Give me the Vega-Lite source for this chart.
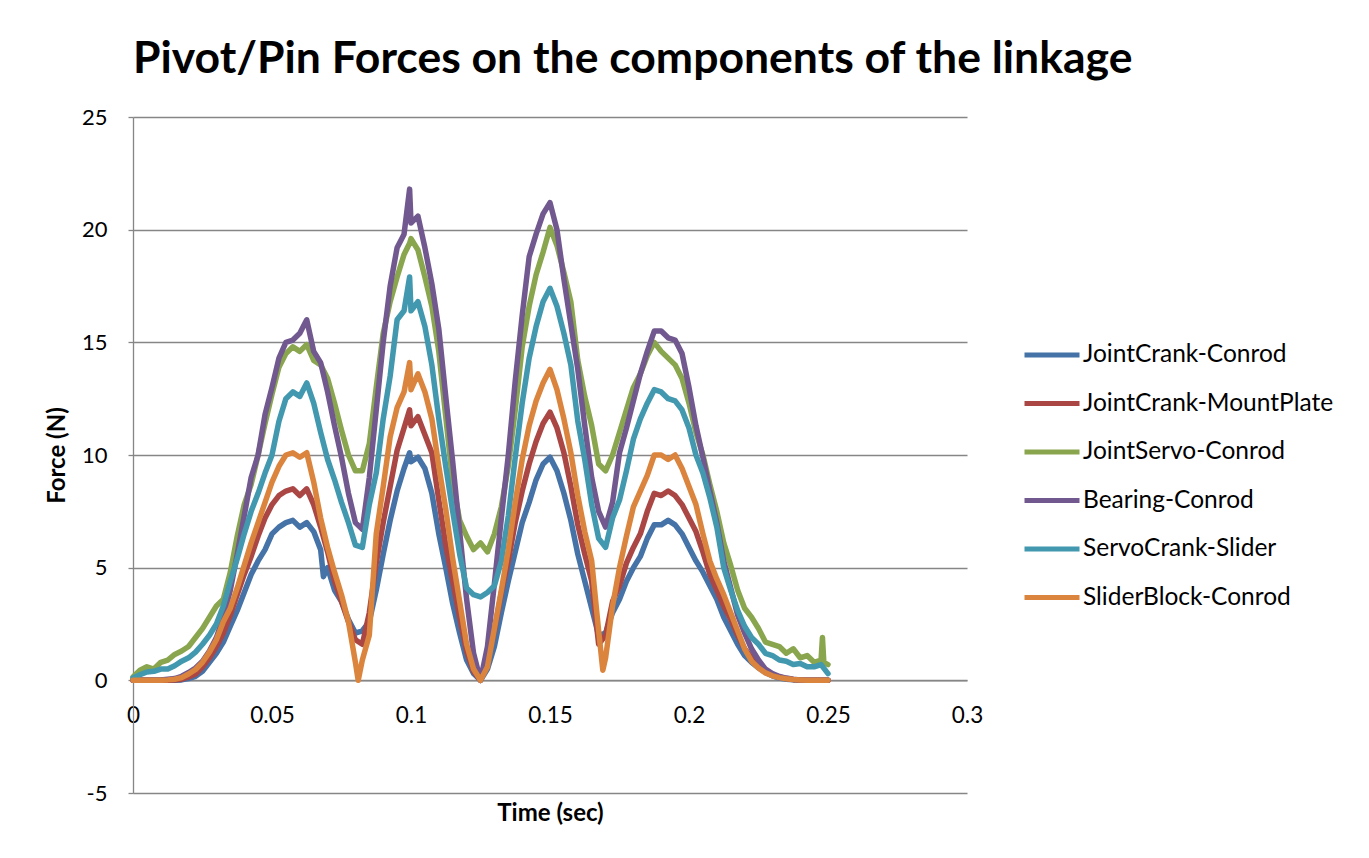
{
  "$schema": "https://vega.github.io/schema/vega-lite/v6.json",
  "width": 834,
  "height": 676,
  "autosize": {"type": "none"},
  "padding": {"left": 133, "top": 117, "right": 402, "bottom": 65},
  "background": "white",
  "title": {"text": "Pivot/Pin Forces on the components of the linkage", "anchor": "start", "frame": "group", "font": "Lato", "fontSize": 44.5, "fontWeight": "bold", "color": "black", "offset": 24},
  "data": {"values": [
    {"t":0,"JointCrank-Conrod":0,"JointCrank-MountPlate":0,"JointServo-Conrod":0.15,"Bearing-Conrod":0,"ServoCrank-Slider":0.1,"SliderBlock-Conrod":0},
    {"t":0.0025,"JointCrank-Conrod":0,"JointCrank-MountPlate":0,"JointServo-Conrod":0.45,"Bearing-Conrod":0,"ServoCrank-Slider":0.25,"SliderBlock-Conrod":0},
    {"t":0.005,"JointCrank-Conrod":0,"JointCrank-MountPlate":0,"JointServo-Conrod":0.6,"Bearing-Conrod":0,"ServoCrank-Slider":0.37,"SliderBlock-Conrod":0},
    {"t":0.0075,"JointCrank-Conrod":0,"JointCrank-MountPlate":0,"JointServo-Conrod":0.5,"Bearing-Conrod":0,"ServoCrank-Slider":0.4,"SliderBlock-Conrod":0},
    {"t":0.01,"JointCrank-Conrod":0,"JointCrank-MountPlate":0,"JointServo-Conrod":0.8,"Bearing-Conrod":0.02,"ServoCrank-Slider":0.5,"SliderBlock-Conrod":0},
    {"t":0.0125,"JointCrank-Conrod":0,"JointCrank-MountPlate":0,"JointServo-Conrod":0.9,"Bearing-Conrod":0.05,"ServoCrank-Slider":0.5,"SliderBlock-Conrod":0.02},
    {"t":0.015,"JointCrank-Conrod":0,"JointCrank-MountPlate":0.01,"JointServo-Conrod":1.15,"Bearing-Conrod":0.08,"ServoCrank-Slider":0.65,"SliderBlock-Conrod":0.05},
    {"t":0.0175,"JointCrank-Conrod":0.02,"JointCrank-MountPlate":0.05,"JointServo-Conrod":1.3,"Bearing-Conrod":0.18,"ServoCrank-Slider":0.85,"SliderBlock-Conrod":0.12},
    {"t":0.02,"JointCrank-Conrod":0.08,"JointCrank-MountPlate":0.15,"JointServo-Conrod":1.5,"Bearing-Conrod":0.35,"ServoCrank-Slider":1.0,"SliderBlock-Conrod":0.28},
    {"t":0.0225,"JointCrank-Conrod":0.18,"JointCrank-MountPlate":0.28,"JointServo-Conrod":1.9,"Bearing-Conrod":0.55,"ServoCrank-Slider":1.25,"SliderBlock-Conrod":0.48},
    {"t":0.025,"JointCrank-Conrod":0.4,"JointCrank-MountPlate":0.6,"JointServo-Conrod":2.3,"Bearing-Conrod":0.85,"ServoCrank-Slider":1.6,"SliderBlock-Conrod":0.8},
    {"t":0.0275,"JointCrank-Conrod":0.8,"JointCrank-MountPlate":1.0,"JointServo-Conrod":2.8,"Bearing-Conrod":1.3,"ServoCrank-Slider":2.0,"SliderBlock-Conrod":1.25},
    {"t":0.03,"JointCrank-Conrod":1.2,"JointCrank-MountPlate":1.5,"JointServo-Conrod":3.3,"Bearing-Conrod":1.9,"ServoCrank-Slider":2.5,"SliderBlock-Conrod":1.8},
    {"t":0.0325,"JointCrank-Conrod":1.7,"JointCrank-MountPlate":2.1,"JointServo-Conrod":3.6,"Bearing-Conrod":2.8,"ServoCrank-Slider":3.3,"SliderBlock-Conrod":2.6},
    {"t":0.035,"JointCrank-Conrod":2.4,"JointCrank-MountPlate":2.9,"JointServo-Conrod":4.8,"Bearing-Conrod":4.0,"ServoCrank-Slider":4.4,"SliderBlock-Conrod":3.2},
    {"t":0.0375,"JointCrank-Conrod":3.1,"JointCrank-MountPlate":3.8,"JointServo-Conrod":6.4,"Bearing-Conrod":5.6,"ServoCrank-Slider":5.4,"SliderBlock-Conrod":4.1},
    {"t":0.04,"JointCrank-Conrod":3.9,"JointCrank-MountPlate":4.7,"JointServo-Conrod":7.8,"Bearing-Conrod":7.3,"ServoCrank-Slider":6.5,"SliderBlock-Conrod":5.1},
    {"t":0.0425,"JointCrank-Conrod":4.7,"JointCrank-MountPlate":5.5,"JointServo-Conrod":8.7,"Bearing-Conrod":9.0,"ServoCrank-Slider":7.5,"SliderBlock-Conrod":6.1},
    {"t":0.045,"JointCrank-Conrod":5.3,"JointCrank-MountPlate":6.4,"JointServo-Conrod":10.0,"Bearing-Conrod":10.0,"ServoCrank-Slider":8.3,"SliderBlock-Conrod":7.0},
    {"t":0.0475,"JointCrank-Conrod":5.8,"JointCrank-MountPlate":7.2,"JointServo-Conrod":11.4,"Bearing-Conrod":11.8,"ServoCrank-Slider":9.2,"SliderBlock-Conrod":7.9},
    {"t":0.05,"JointCrank-Conrod":6.5,"JointCrank-MountPlate":7.8,"JointServo-Conrod":12.7,"Bearing-Conrod":13.0,"ServoCrank-Slider":10.0,"SliderBlock-Conrod":8.8},
    {"t":0.0525,"JointCrank-Conrod":6.8,"JointCrank-MountPlate":8.2,"JointServo-Conrod":13.9,"Bearing-Conrod":14.3,"ServoCrank-Slider":11.5,"SliderBlock-Conrod":9.5},
    {"t":0.055,"JointCrank-Conrod":7.0,"JointCrank-MountPlate":8.4,"JointServo-Conrod":14.5,"Bearing-Conrod":15.0,"ServoCrank-Slider":12.5,"SliderBlock-Conrod":10.0},
    {"t":0.0575,"JointCrank-Conrod":7.1,"JointCrank-MountPlate":8.5,"JointServo-Conrod":14.8,"Bearing-Conrod":15.1,"ServoCrank-Slider":12.8,"SliderBlock-Conrod":10.1},
    {"t":0.06,"JointCrank-Conrod":6.8,"JointCrank-MountPlate":8.2,"JointServo-Conrod":14.6,"Bearing-Conrod":15.4,"ServoCrank-Slider":12.6,"SliderBlock-Conrod":9.9},
    {"t":0.0625,"JointCrank-Conrod":7.0,"JointCrank-MountPlate":8.5,"JointServo-Conrod":14.9,"Bearing-Conrod":16.0,"ServoCrank-Slider":13.2,"SliderBlock-Conrod":10.1},
    {"t":0.065,"JointCrank-Conrod":6.6,"JointCrank-MountPlate":7.8,"JointServo-Conrod":14.2,"Bearing-Conrod":14.6,"ServoCrank-Slider":12.3,"SliderBlock-Conrod":8.8},
    {"t":0.0675,"JointCrank-Conrod":5.8,"JointCrank-MountPlate":6.8,"JointServo-Conrod":14.0,"Bearing-Conrod":14.1,"ServoCrank-Slider":11.0,"SliderBlock-Conrod":7.2},
    {"t":0.0685,"JointCrank-Conrod":4.6},
    {"t":0.07,"JointCrank-Conrod":5.0,"JointCrank-MountPlate":5.7,"JointServo-Conrod":13.4,"Bearing-Conrod":12.8,"ServoCrank-Slider":9.8,"SliderBlock-Conrod":5.9},
    {"t":0.0725,"JointCrank-Conrod":4.0,"JointCrank-MountPlate":4.4,"JointServo-Conrod":12.3,"Bearing-Conrod":11.3,"ServoCrank-Slider":8.9,"SliderBlock-Conrod":4.8},
    {"t":0.075,"JointCrank-Conrod":3.5,"JointCrank-MountPlate":3.5,"JointServo-Conrod":11.1,"Bearing-Conrod":9.9,"ServoCrank-Slider":7.9,"SliderBlock-Conrod":3.8},
    {"t":0.0775,"JointCrank-Conrod":2.7,"JointCrank-MountPlate":2.6,"JointServo-Conrod":10.0,"Bearing-Conrod":8.3,"ServoCrank-Slider":7.0,"SliderBlock-Conrod":2.6},
    {"t":0.08,"JointCrank-Conrod":2.1,"JointCrank-MountPlate":1.8,"JointServo-Conrod":9.3,"Bearing-Conrod":7.0,"ServoCrank-Slider":6.0,"SliderBlock-Conrod":0.8},
    {"t":0.081,"SliderBlock-Conrod":0},
    {"t":0.0825,"JointCrank-Conrod":2.2,"JointCrank-MountPlate":1.6,"JointServo-Conrod":9.3,"Bearing-Conrod":6.7,"ServoCrank-Slider":5.9,"SliderBlock-Conrod":0.9},
    {"t":0.085,"JointCrank-Conrod":2.6,"JointCrank-MountPlate":3.0,"JointServo-Conrod":10.5,"Bearing-Conrod":9.0,"ServoCrank-Slider":7.8,"SliderBlock-Conrod":2.0},
    {"t":0.0875,"JointCrank-Conrod":4.0,"JointCrank-MountPlate":5.2,"JointServo-Conrod":13.0,"Bearing-Conrod":12.0,"ServoCrank-Slider":9.2,"SliderBlock-Conrod":6.5},
    {"t":0.09,"JointCrank-Conrod":5.6,"JointCrank-MountPlate":7.0,"JointServo-Conrod":15.4,"Bearing-Conrod":15.0,"ServoCrank-Slider":11.6,"SliderBlock-Conrod":8.6},
    {"t":0.0925,"JointCrank-Conrod":7.1,"JointCrank-MountPlate":8.6,"JointServo-Conrod":16.8,"Bearing-Conrod":17.5,"ServoCrank-Slider":13.5,"SliderBlock-Conrod":10.8},
    {"t":0.095,"JointCrank-Conrod":8.4,"JointCrank-MountPlate":10.2,"JointServo-Conrod":17.9,"Bearing-Conrod":19.2,"ServoCrank-Slider":16.0,"SliderBlock-Conrod":12.1},
    {"t":0.0975,"JointCrank-Conrod":9.4,"JointCrank-MountPlate":11.2,"JointServo-Conrod":18.9,"Bearing-Conrod":19.8,"ServoCrank-Slider":16.4,"SliderBlock-Conrod":12.8},
    {"t":0.0995,"JointCrank-Conrod":10.1,"JointCrank-MountPlate":12.0,"JointServo-Conrod":19.4,"Bearing-Conrod":21.8,"ServoCrank-Slider":17.9,"SliderBlock-Conrod":14.1},
    {"t":0.1,"JointCrank-Conrod":9.7,"JointCrank-MountPlate":11.3,"JointServo-Conrod":19.6,"Bearing-Conrod":20.3,"ServoCrank-Slider":16.4,"SliderBlock-Conrod":12.9},
    {"t":0.1025,"JointCrank-Conrod":9.9,"JointCrank-MountPlate":11.7,"JointServo-Conrod":19.1,"Bearing-Conrod":20.6,"ServoCrank-Slider":16.8,"SliderBlock-Conrod":13.6},
    {"t":0.105,"JointCrank-Conrod":9.4,"JointCrank-MountPlate":10.9,"JointServo-Conrod":17.9,"Bearing-Conrod":19.2,"ServoCrank-Slider":15.7,"SliderBlock-Conrod":12.8},
    {"t":0.1075,"JointCrank-Conrod":8.3,"JointCrank-MountPlate":10.1,"JointServo-Conrod":16.6,"Bearing-Conrod":17.6,"ServoCrank-Slider":14.0,"SliderBlock-Conrod":11.6},
    {"t":0.11,"JointCrank-Conrod":6.5,"JointCrank-MountPlate":8.0,"JointServo-Conrod":14.6,"Bearing-Conrod":15.6,"ServoCrank-Slider":11.6,"SliderBlock-Conrod":9.5},
    {"t":0.1125,"JointCrank-Conrod":5.0,"JointCrank-MountPlate":6.0,"JointServo-Conrod":11.7,"Bearing-Conrod":12.6,"ServoCrank-Slider":9.5,"SliderBlock-Conrod":7.6},
    {"t":0.115,"JointCrank-Conrod":3.4,"JointCrank-MountPlate":4.4,"JointServo-Conrod":8.8,"Bearing-Conrod":9.7,"ServoCrank-Slider":7.5,"SliderBlock-Conrod":5.4},
    {"t":0.1175,"JointCrank-Conrod":2.1,"JointCrank-MountPlate":2.8,"JointServo-Conrod":7.1,"Bearing-Conrod":6.6,"ServoCrank-Slider":5.6,"SliderBlock-Conrod":3.5},
    {"t":0.12,"JointCrank-Conrod":0.9,"JointCrank-MountPlate":1.3,"JointServo-Conrod":6.4,"Bearing-Conrod":3.6,"ServoCrank-Slider":4.1,"SliderBlock-Conrod":1.6},
    {"t":0.1225,"JointCrank-Conrod":0.3,"JointCrank-MountPlate":0.4,"JointServo-Conrod":5.8,"Bearing-Conrod":1.2,"ServoCrank-Slider":3.8,"SliderBlock-Conrod":0.5},
    {"t":0.125,"JointCrank-Conrod":0,"JointCrank-MountPlate":0,"JointServo-Conrod":6.1,"Bearing-Conrod":0,"ServoCrank-Slider":3.7,"SliderBlock-Conrod":0},
    {"t":0.1275,"JointCrank-Conrod":0.5,"JointCrank-MountPlate":0.8,"JointServo-Conrod":5.7,"Bearing-Conrod":1.5,"ServoCrank-Slider":3.9,"SliderBlock-Conrod":0.6},
    {"t":0.13,"JointCrank-Conrod":1.5,"JointCrank-MountPlate":2.2,"JointServo-Conrod":6.5,"Bearing-Conrod":4.3,"ServoCrank-Slider":4.2,"SliderBlock-Conrod":2.3},
    {"t":0.1325,"JointCrank-Conrod":3.0,"JointCrank-MountPlate":3.9,"JointServo-Conrod":7.7,"Bearing-Conrod":7.2,"ServoCrank-Slider":5.3,"SliderBlock-Conrod":4.0},
    {"t":0.135,"JointCrank-Conrod":4.4,"JointCrank-MountPlate":5.3,"JointServo-Conrod":9.5,"Bearing-Conrod":10.0,"ServoCrank-Slider":7.3,"SliderBlock-Conrod":5.8},
    {"t":0.1375,"JointCrank-Conrod":5.7,"JointCrank-MountPlate":7.0,"JointServo-Conrod":12.0,"Bearing-Conrod":13.3,"ServoCrank-Slider":9.9,"SliderBlock-Conrod":7.9},
    {"t":0.14,"JointCrank-Conrod":7.0,"JointCrank-MountPlate":8.4,"JointServo-Conrod":14.8,"Bearing-Conrod":16.2,"ServoCrank-Slider":12.3,"SliderBlock-Conrod":9.8},
    {"t":0.1425,"JointCrank-Conrod":7.9,"JointCrank-MountPlate":9.6,"JointServo-Conrod":16.6,"Bearing-Conrod":18.8,"ServoCrank-Slider":14.3,"SliderBlock-Conrod":11.3},
    {"t":0.145,"JointCrank-Conrod":8.9,"JointCrank-MountPlate":10.6,"JointServo-Conrod":18.0,"Bearing-Conrod":19.8,"ServoCrank-Slider":15.7,"SliderBlock-Conrod":12.4},
    {"t":0.1475,"JointCrank-Conrod":9.6,"JointCrank-MountPlate":11.4,"JointServo-Conrod":19.0,"Bearing-Conrod":20.7,"ServoCrank-Slider":16.8,"SliderBlock-Conrod":13.2},
    {"t":0.15,"JointCrank-Conrod":9.9,"JointCrank-MountPlate":11.9,"JointServo-Conrod":20.1,"Bearing-Conrod":21.2,"ServoCrank-Slider":17.4,"SliderBlock-Conrod":13.8},
    {"t":0.1525,"JointCrank-Conrod":9.3,"JointCrank-MountPlate":11.2,"JointServo-Conrod":19.3,"Bearing-Conrod":20.0,"ServoCrank-Slider":16.6,"SliderBlock-Conrod":12.9},
    {"t":0.155,"JointCrank-Conrod":8.3,"JointCrank-MountPlate":10.1,"JointServo-Conrod":18.1,"Bearing-Conrod":17.8,"ServoCrank-Slider":15.4,"SliderBlock-Conrod":11.6},
    {"t":0.1575,"JointCrank-Conrod":7.1,"JointCrank-MountPlate":8.6,"JointServo-Conrod":16.8,"Bearing-Conrod":15.8,"ServoCrank-Slider":14.0,"SliderBlock-Conrod":10.1},
    {"t":0.16,"JointCrank-Conrod":5.6,"JointCrank-MountPlate":6.9,"JointServo-Conrod":14.2,"Bearing-Conrod":13.8,"ServoCrank-Slider":11.5,"SliderBlock-Conrod":8.2},
    {"t":0.1625,"JointCrank-Conrod":4.4,"JointCrank-MountPlate":5.6,"JointServo-Conrod":12.6,"Bearing-Conrod":11.3,"ServoCrank-Slider":9.8,"SliderBlock-Conrod":6.6},
    {"t":0.165,"JointCrank-Conrod":3.2,"JointCrank-MountPlate":4.4,"JointServo-Conrod":11.3,"Bearing-Conrod":9.0,"ServoCrank-Slider":7.8,"SliderBlock-Conrod":5.3},
    {"t":0.1675,"JointCrank-Conrod":2.0,"JointCrank-MountPlate":1.6,"JointServo-Conrod":9.6,"Bearing-Conrod":7.5,"ServoCrank-Slider":6.3,"SliderBlock-Conrod":2.2},
    {"t":0.169,"SliderBlock-Conrod":0.45},
    {"t":0.17,"JointCrank-Conrod":2.1,"JointCrank-MountPlate":2.0,"JointServo-Conrod":9.3,"Bearing-Conrod":6.8,"ServoCrank-Slider":5.9,"SliderBlock-Conrod":1.0},
    {"t":0.1725,"JointCrank-Conrod":3.0,"JointCrank-MountPlate":3.5,"JointServo-Conrod":10.0,"Bearing-Conrod":7.9,"ServoCrank-Slider":7.2,"SliderBlock-Conrod":3.3},
    {"t":0.175,"JointCrank-Conrod":3.6,"JointCrank-MountPlate":4.2,"JointServo-Conrod":11.0,"Bearing-Conrod":10.1,"ServoCrank-Slider":8.0,"SliderBlock-Conrod":5.0},
    {"t":0.1775,"JointCrank-Conrod":4.4,"JointCrank-MountPlate":5.2,"JointServo-Conrod":12.0,"Bearing-Conrod":11.2,"ServoCrank-Slider":9.3,"SliderBlock-Conrod":6.4},
    {"t":0.18,"JointCrank-Conrod":5.0,"JointCrank-MountPlate":5.9,"JointServo-Conrod":13.0,"Bearing-Conrod":12.4,"ServoCrank-Slider":10.7,"SliderBlock-Conrod":7.7},
    {"t":0.1825,"JointCrank-Conrod":5.5,"JointCrank-MountPlate":6.5,"JointServo-Conrod":13.6,"Bearing-Conrod":13.6,"ServoCrank-Slider":11.6,"SliderBlock-Conrod":8.4},
    {"t":0.185,"JointCrank-Conrod":6.3,"JointCrank-MountPlate":7.5,"JointServo-Conrod":14.4,"Bearing-Conrod":14.6,"ServoCrank-Slider":12.3,"SliderBlock-Conrod":9.1},
    {"t":0.1875,"JointCrank-Conrod":6.9,"JointCrank-MountPlate":8.3,"JointServo-Conrod":15.0,"Bearing-Conrod":15.5,"ServoCrank-Slider":12.9,"SliderBlock-Conrod":10.0},
    {"t":0.19,"JointCrank-Conrod":6.9,"JointCrank-MountPlate":8.2,"JointServo-Conrod":14.6,"Bearing-Conrod":15.5,"ServoCrank-Slider":12.8,"SliderBlock-Conrod":10.0},
    {"t":0.1925,"JointCrank-Conrod":7.1,"JointCrank-MountPlate":8.4,"JointServo-Conrod":14.3,"Bearing-Conrod":15.2,"ServoCrank-Slider":12.5,"SliderBlock-Conrod":9.8},
    {"t":0.195,"JointCrank-Conrod":6.9,"JointCrank-MountPlate":8.2,"JointServo-Conrod":14.0,"Bearing-Conrod":15.1,"ServoCrank-Slider":12.4,"SliderBlock-Conrod":10.0},
    {"t":0.1975,"JointCrank-Conrod":6.5,"JointCrank-MountPlate":7.8,"JointServo-Conrod":13.4,"Bearing-Conrod":14.5,"ServoCrank-Slider":12.0,"SliderBlock-Conrod":9.4},
    {"t":0.2,"JointCrank-Conrod":5.9,"JointCrank-MountPlate":7.2,"JointServo-Conrod":12.3,"Bearing-Conrod":13.0,"ServoCrank-Slider":11.2,"SliderBlock-Conrod":8.6},
    {"t":0.2025,"JointCrank-Conrod":5.3,"JointCrank-MountPlate":6.6,"JointServo-Conrod":11.0,"Bearing-Conrod":11.3,"ServoCrank-Slider":10.0,"SliderBlock-Conrod":7.8},
    {"t":0.205,"JointCrank-Conrod":4.8,"JointCrank-MountPlate":5.7,"JointServo-Conrod":10.0,"Bearing-Conrod":9.9,"ServoCrank-Slider":9.2,"SliderBlock-Conrod":6.5},
    {"t":0.2075,"JointCrank-Conrod":4.2,"JointCrank-MountPlate":4.7,"JointServo-Conrod":8.7,"Bearing-Conrod":8.4,"ServoCrank-Slider":8.1,"SliderBlock-Conrod":5.3},
    {"t":0.21,"JointCrank-Conrod":3.6,"JointCrank-MountPlate":4.0,"JointServo-Conrod":7.5,"Bearing-Conrod":7.0,"ServoCrank-Slider":6.8,"SliderBlock-Conrod":4.5},
    {"t":0.2125,"JointCrank-Conrod":2.8,"JointCrank-MountPlate":3.3,"JointServo-Conrod":6.1,"Bearing-Conrod":5.3,"ServoCrank-Slider":5.0,"SliderBlock-Conrod":3.8},
    {"t":0.215,"JointCrank-Conrod":2.2,"JointCrank-MountPlate":2.7,"JointServo-Conrod":5.1,"Bearing-Conrod":4.1,"ServoCrank-Slider":4.0,"SliderBlock-Conrod":3.0},
    {"t":0.2175,"JointCrank-Conrod":1.6,"JointCrank-MountPlate":2.0,"JointServo-Conrod":4.0,"Bearing-Conrod":2.9,"ServoCrank-Slider":3.1,"SliderBlock-Conrod":2.2},
    {"t":0.22,"JointCrank-Conrod":1.1,"JointCrank-MountPlate":1.4,"JointServo-Conrod":3.2,"Bearing-Conrod":2.1,"ServoCrank-Slider":2.4,"SliderBlock-Conrod":1.4},
    {"t":0.2225,"JointCrank-Conrod":0.8,"JointCrank-MountPlate":1.0,"JointServo-Conrod":2.8,"Bearing-Conrod":1.4,"ServoCrank-Slider":1.9,"SliderBlock-Conrod":0.85},
    {"t":0.225,"JointCrank-Conrod":0.55,"JointCrank-MountPlate":0.7,"JointServo-Conrod":2.3,"Bearing-Conrod":0.9,"ServoCrank-Slider":1.6,"SliderBlock-Conrod":0.55},
    {"t":0.2275,"JointCrank-Conrod":0.35,"JointCrank-MountPlate":0.45,"JointServo-Conrod":1.7,"Bearing-Conrod":0.5,"ServoCrank-Slider":1.2,"SliderBlock-Conrod":0.33},
    {"t":0.23,"JointCrank-Conrod":0.2,"JointCrank-MountPlate":0.25,"JointServo-Conrod":1.6,"Bearing-Conrod":0.3,"ServoCrank-Slider":1.1,"SliderBlock-Conrod":0.2},
    {"t":0.2325,"JointCrank-Conrod":0.1,"JointCrank-MountPlate":0.15,"JointServo-Conrod":1.5,"Bearing-Conrod":0.17,"ServoCrank-Slider":0.9,"SliderBlock-Conrod":0.12},
    {"t":0.235,"JointCrank-Conrod":0.05,"JointCrank-MountPlate":0.08,"JointServo-Conrod":1.2,"Bearing-Conrod":0.1,"ServoCrank-Slider":0.85,"SliderBlock-Conrod":0.07},
    {"t":0.2375,"JointCrank-Conrod":0.02,"JointCrank-MountPlate":0.04,"JointServo-Conrod":1.4,"Bearing-Conrod":0.05,"ServoCrank-Slider":0.7,"SliderBlock-Conrod":0.04},
    {"t":0.24,"JointCrank-Conrod":0,"JointCrank-MountPlate":0.02,"JointServo-Conrod":1.0,"Bearing-Conrod":0.02,"ServoCrank-Slider":0.75,"SliderBlock-Conrod":0.02},
    {"t":0.2425,"JointCrank-Conrod":0,"JointCrank-MountPlate":0,"JointServo-Conrod":1.1,"Bearing-Conrod":0,"ServoCrank-Slider":0.6,"SliderBlock-Conrod":0},
    {"t":0.245,"JointCrank-Conrod":0,"JointCrank-MountPlate":0,"JointServo-Conrod":0.8,"Bearing-Conrod":0,"ServoCrank-Slider":0.6,"SliderBlock-Conrod":0},
    {"t":0.2475,"JointCrank-Conrod":0,"JointCrank-MountPlate":0,"JointServo-Conrod":0.9,"Bearing-Conrod":0,"ServoCrank-Slider":0.7,"SliderBlock-Conrod":0},
    {"t":0.248,"JointServo-Conrod":1.9},
    {"t":0.2485,"JointServo-Conrod":0.8},
    {"t":0.25,"JointCrank-Conrod":0,"JointCrank-MountPlate":0,"JointServo-Conrod":0.7,"Bearing-Conrod":0,"ServoCrank-Slider":0.3,"SliderBlock-Conrod":0}
  ]},
  "transform": [
    {"fold": ["JointCrank-Conrod", "JointCrank-MountPlate", "JointServo-Conrod", "Bearing-Conrod", "ServoCrank-Slider", "SliderBlock-Conrod"], "as": ["series", "force"]},
    {"filter": "isValid(datum.force)"}
  ],
  "mark": {"type": "line", "strokeWidth": 5.5, "strokeJoin": "round", "strokeCap": "round"},
  "encoding": {
    "x": {
      "field": "t", "type": "quantitative",
      "scale": {"domain": [0, 0.3], "nice": false},
      "axis": {
        "values": [0, 0.05, 0.1, 0.15, 0.2, 0.25, 0.3], "format": "~g",
        "offset": -112.67, "grid": false, "ticks": false,
        "domainColor": "#868686", "domainWidth": 1.3,
        "labelPadding": 24, "labelFont": "Lato", "labelFontSize": 22.5, "labelColor": "black", "labelFlush": false,
        "title": "Time (sec)", "titleFont": "Lato", "titleFontSize": 24, "titleFontWeight": "bold", "titleColor": "black", "titlePadding": 75
      }
    },
    "y": {
      "field": "force", "type": "quantitative",
      "scale": {"domain": [-5, 25], "nice": false},
      "axis": {
        "values": [-5, 0, 5, 10, 15, 20, 25],
        "labelExpr": "'' + datum.value",
        "grid": true, "gridColor": "#868686", "gridWidth": 1.3,
        "domainColor": "#868686", "domainWidth": 1.3,
        "tickColor": "#868686", "tickSize": 5, "tickWidth": 1.3,
        "labelPadding": 21, "labelFont": "Lato", "labelFontSize": 22, "labelColor": "black",
        "title": "Force (N)", "titleFont": "Lato", "titleFontSize": 24, "titleFontWeight": "bold", "titleColor": "black", "titlePadding": 12
      }
    },
    "color": {
      "field": "series", "type": "nominal",
      "scale": {
        "domain": ["JointCrank-Conrod", "JointCrank-MountPlate", "JointServo-Conrod", "Bearing-Conrod", "ServoCrank-Slider", "SliderBlock-Conrod"],
        "range": ["#4572A7", "#AA4643", "#89A54E", "#71588F", "#4198AF", "#DB843D"]
      },
      "legend": {
        "orient": "none", "legendX": 889, "legendY": 208, "title": null,
        "labelFont": "Lato", "labelFontSize": 24.5, "labelColor": "black", "labelOffset": 1, "labelLimit": 500,
        "symbolType": "stroke", "symbolSize": 3025, "symbolStrokeWidth": 5,
        "rowPadding": 6.5
      }
    }
  },
  "config": {"view": {"stroke": null}}
}
